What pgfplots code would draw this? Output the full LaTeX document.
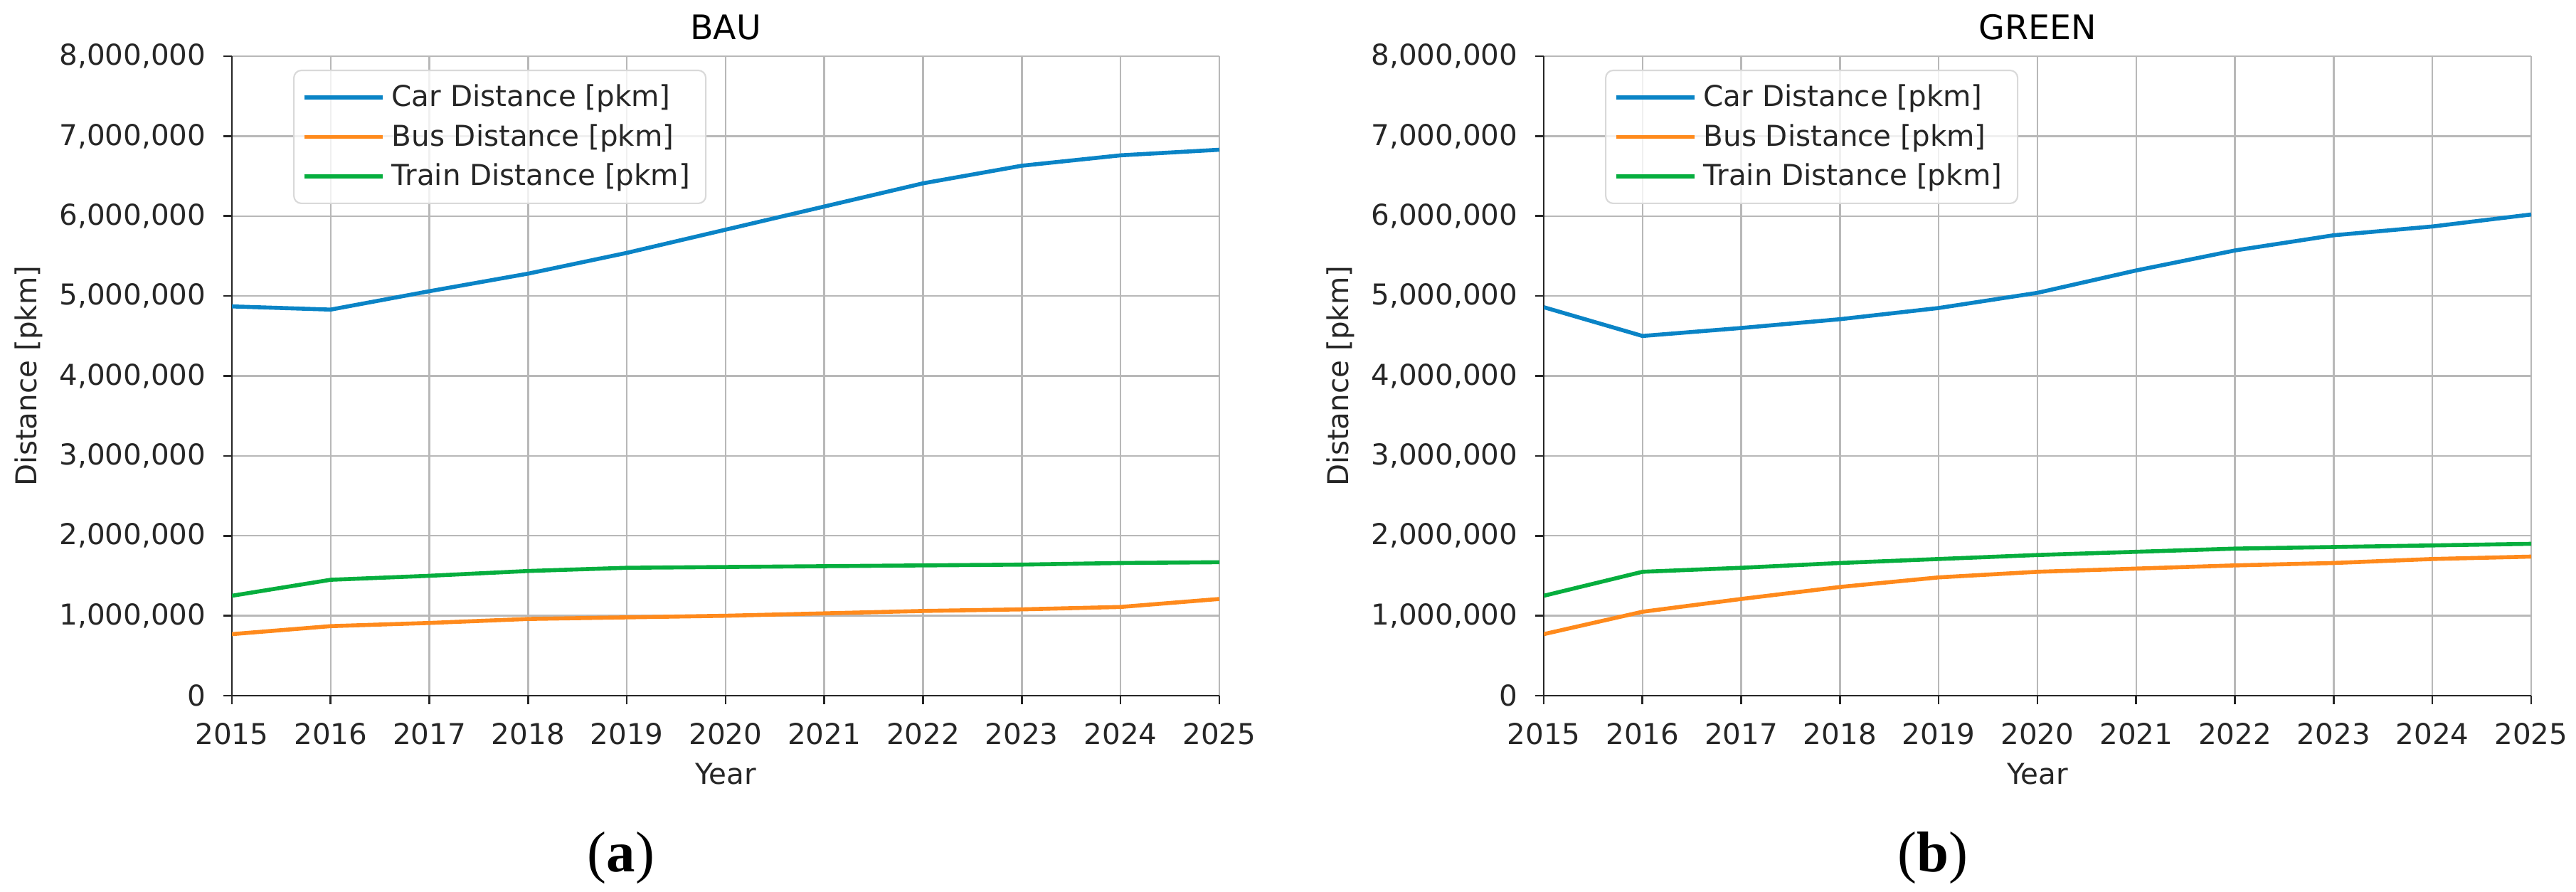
\documentclass[border=0pt]{standalone}
\usepackage{fontspec}
\setmainfont{DejaVu Sans}
\newfontfamily\capfont{Liberation Serif}
\usepackage{pgfplots}
\pgfplotsset{compat=1.18}

\definecolor{carblue}{HTML}{0A84C6}
\definecolor{busorange}{HTML}{FF8A1C}
\definecolor{traingreen}{HTML}{06AE3E}

\pgfplotsset{
  distplot/.style={
    scale only axis,
    width=13.88cm, height=8.99cm,
    xmin=2015, xmax=2025, ymin=0, ymax=8000000,
    xtick={2015,...,2025},
    ytick={0,1000000,...,8000000},
    scaled ticks=false,
    /pgf/number format/.cd, fixed, 1000 sep={,}, assume math mode=true, /pgfplots/.cd,
    xticklabel={\pgfmathprintnumber[fixed,1000 sep={}]{\tick}},
    axis lines=left, axis line style={-, line width=0.75pt, black!85},
    tick align=outside, tick style={black!85, line width=0.75pt},
    major tick length=0.12cm,
    grid=major, grid style={black!28, line width=0.7pt},
    ticklabel style={font=\fontsize{11.5}{13.5}\selectfont, text=black!85},
    xticklabel style={anchor=base, yshift=-0.56cm},
    yticklabel style={anchor=east, inner xsep=0pt, xshift=-0.24cm},
    every axis x label/.style={at={(axis description cs:0.5,0)}, anchor=base, yshift=-1.24cm,
      font=\fontsize{11.5}{13.5}\selectfont, text=black!85},
    every axis y label/.style={at={(axis description cs:0,0.5)}, xshift=-2.86cm, rotate=90, anchor=center,
      font=\fontsize{11.5}{13.5}\selectfont, text=black!85},
    every axis title/.style={at={(axis description cs:0.5,1)}, anchor=base, yshift=0.24cm,
      font=\fontsize{13.5}{16}\selectfont},
    xlabel={Year}, ylabel={Distance [pkm]},
    legend style={at={(0.062,0.979)}, anchor=north west,
      draw=black!15, line width=0.6pt, rounded corners=3pt, fill=white, fill opacity=0.8, text opacity=1,
      font=\fontsize{11.5}{13.5}\selectfont, text=black!85, row sep=0pt,
      inner xsep=0.12cm, inner ysep=0.1cm, nodes={inner ysep=2.8pt, inner xsep=0.1cm}},
    legend cell align=left,
    legend image code/.code={\draw[#1] (0cm,0cm) -- (0.89cm,0cm); \path (0cm,0cm) -- (1.1cm,0cm);},
    every axis plot/.append style={line width=1.6pt},
  }
}

\begin{document}
\begin{tikzpicture}
\useasboundingbox (0,0) rectangle (36.21,-12.53);

\begin{axis}[distplot, at={(3.26cm,-9.78cm)}, anchor=south west, title={BAU}]
\addplot[carblue] coordinates {(2015,4870000) (2016,4830000) (2017,5060000) (2018,5280000) (2019,5540000) (2020,5830000) (2021,6120000) (2022,6410000) (2023,6630000) (2024,6760000) (2025,6830000)};
\addplot[busorange] coordinates {(2015,770000) (2016,870000) (2017,910000) (2018,960000) (2019,980000) (2020,1000000) (2021,1030000) (2022,1060000) (2023,1080000) (2024,1110000) (2025,1210000)};
\addplot[traingreen] coordinates {(2015,1250000) (2016,1450000) (2017,1500000) (2018,1560000) (2019,1600000) (2020,1610000) (2021,1620000) (2022,1630000) (2023,1640000) (2024,1660000) (2025,1670000)};
\legend{Car Distance [pkm], Bus Distance [pkm], Train Distance [pkm]}
\end{axis}

\begin{axis}[distplot, at={(21.70cm,-9.78cm)}, anchor=south west, title={GREEN}]
\addplot[carblue] coordinates {(2015,4860000) (2016,4500000) (2017,4600000) (2018,4710000) (2019,4850000) (2020,5040000) (2021,5320000) (2022,5570000) (2023,5760000) (2024,5870000) (2025,6020000)};
\addplot[busorange] coordinates {(2015,770000) (2016,1050000) (2017,1210000) (2018,1360000) (2019,1480000) (2020,1550000) (2021,1590000) (2022,1630000) (2023,1660000) (2024,1710000) (2025,1740000)};
\addplot[traingreen] coordinates {(2015,1250000) (2016,1550000) (2017,1600000) (2018,1660000) (2019,1710000) (2020,1760000) (2021,1800000) (2022,1840000) (2023,1860000) (2024,1880000) (2025,1900000)};
\legend{Car Distance [pkm], Bus Distance [pkm], Train Distance [pkm]}
\end{axis}

\node[font=\capfont\fontsize{23}{27}\selectfont, anchor=base] at (8.73,-12.25) {(\textbf{a})};
\node[font=\capfont\fontsize{23}{27}\selectfont, anchor=base] at (27.17,-12.25) {(\textbf{b})};
\end{tikzpicture}
\end{document}
